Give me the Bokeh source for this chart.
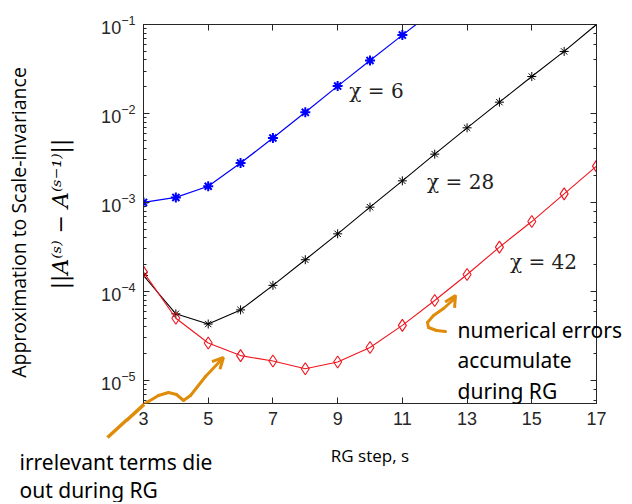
from bokeh.plotting import figure
from bokeh.models import (Range1d, LinearAxis, LogAxis, Label, Arrow, OpenHead, Title,
                          ColumnDataSource, FixedTicker, CustomJSTickFormatter)
from bokeh.embed import file_html
from bokeh.resources import INLINE
import math

# ---------------- data ----------------
steps = [3, 4, 5, 6, 7, 8, 9, 10, 11, 12, 13, 14, 15, 16, 17]
chi6_steps = [3, 4, 5, 6, 7, 8, 9, 10, 11, 12]
chi6 = [1.0e-3, 1.14e-3, 1.52e-3, 2.77e-3, 5.3e-3, 1.03e-2, 2.03e-2, 3.94e-2, 7.6e-2, 1.45e-1]
chi28 = [1.51e-4, 5.6e-5, 4.3e-5, 6.2e-5, 1.17e-4, 2.27e-4, 4.44e-4, 8.85e-4,
         1.75e-3, 3.49e-3, 6.9e-3, 1.34e-2, 2.6e-2, 4.98e-2, 1.0e-1]
chi42 = [1.65e-4, 5.0e-5, 2.63e-5, 1.9e-5, 1.65e-5, 1.35e-5, 1.61e-5, 2.34e-5,
         4.15e-5, 7.9e-5, 1.55e-4, 3.15e-4, 6.1e-4, 1.25e-3, 2.56e-3]
x_ticks = [3, 5, 7, 9, 11, 13, 15, 17]
series_labels = ["\u03c7 = 6", "\u03c7 = 28", "\u03c7 = 42"]

# hand-drawn annotation arrows (canvas pixels)
arrow1_px = [143, 158, 168, 176, 183, 190, 205, 223]
arrow1_py = [404, 395, 392, 394, 400, 395, 376, 357]
arrow2_px = [445, 436, 428, 427, 433, 443, 452, 455]
arrow2_py = [331, 330, 327, 322, 315, 308, 300, 295]

AX = "#262626"
BLUE = "#0000ff"
RED = "#f0141e"
ORANGE = "#e08c0b"

p = figure(width=630, height=502, x_range=Range1d(3, 17), y_range=Range1d(5.5e-6, 0.1),
           y_axis_type="log", output_backend="svg", toolbar_location=None,
           min_border_left=143, min_border_right=34, min_border_top=24, min_border_bottom=99)
p.xgrid.visible = False
p.ygrid.visible = False
p.outline_line_color = AX
p.background_fill_color = "white"
p.border_fill_color = "white"

# axes styling
xa = p.xaxis[0]
xa.ticker = FixedTicker(ticks=x_ticks)
xa.axis_label = "RG step, s"
xa.axis_label_text_font = "Open Sans"
xa.axis_label_text_font_style = "normal"
xa.axis_label_text_font_size = "17px"
xa.axis_label_text_color = "black"
xa.axis_label_standoff = 16
ya = p.yaxis[0]
ya.axis_label = "||A\u207d\u02e2\u207e \u2212 A\u207d\u02e2\u207b\u00b9\u207e||"
ya.axis_label_text_font = "DejaVu Serif"
ya.axis_label_text_font_style = "italic"
ya.axis_label_text_font_size = "22px"
ya.axis_label_text_color = "black"
ya.axis_label_standoff = 25
for ax in (xa, ya):
    ax.axis_line_color = AX
    ax.major_tick_line_color = AX
    ax.minor_tick_line_color = AX
    ax.major_tick_in = 6
    ax.major_tick_out = 0
    ax.minor_tick_in = 3
    ax.minor_tick_out = 0
    ax.major_label_text_font = "Liberation Sans"
    ax.major_label_text_font_size = "18px"
    ax.major_label_text_color = AX
    ax.major_label_standoff = 8
xa.minor_tick_line_color = None

top = LinearAxis(ticker=FixedTicker(ticks=x_ticks), formatter=CustomJSTickFormatter(code="return ''"))
right = LogAxis(formatter=CustomJSTickFormatter(code="return ''"))
for ax in (top, right):
    ax.axis_line_color = AX
    ax.major_tick_line_color = AX
    ax.minor_tick_line_color = AX
    ax.major_tick_in = 6
    ax.major_tick_out = 0
    ax.minor_tick_in = 3
    ax.minor_tick_out = 0
    ax.major_label_standoff = 0
    ax.major_label_text_font_size = "1px"
top.minor_tick_line_color = None
p.add_layout(top, "above")
p.add_layout(right, "right")

# series
p.line(chi6_steps, chi6, line_color=BLUE, line_width=1.2)
p.scatter(chi6_steps, chi6, marker="asterisk", size=10, line_color=BLUE, line_width=2)
p.line(steps, chi28, line_color="black", line_width=1.1)
p.scatter(steps, chi28, marker="asterisk", size=9, line_color="black", line_width=1)
p.line(steps, chi42, line_color=RED, line_width=1.1)
p.scatter(steps, chi42, marker="diamond", size=12, line_color=RED, fill_color=None, line_width=1.1)

# series labels
label_pos = [(10.20, 1.81e-2), (12.80, 1.68e-3), (15.36, 2.12e-4)]
for txt, (lx, ly) in zip(series_labels, label_pos):
    p.add_layout(Label(x=lx, y=ly, text=txt, text_font="DejaVu Serif", text_font_size="20px",
                       text_align="center", text_baseline="middle", text_color="#222222"))

# first (outer) line of the y label
p.add_layout(Label(x=18, y=222, x_units="canvas", y_units="canvas",
                   text="Approximation to Scale-invariance",
                   text_font="Open Sans", text_font_size="19.5px",
                   angle=math.pi / 2, text_align="center", text_baseline="middle", text_color="black"),
             "left")

# text annotations outside / across the frame (side-panel titles are not clipped)
t_irr = Title(text="irrelevant terms die\nout during RG", align="left", vertical_align="top",
              offset=-124, standoff=-44, text_font="Noto Sans", text_font_size="21px",
              text_font_style="normal", text_line_height=1.0, text_color="black")
t_num = Title(text="numerical errors\naccumulate\nduring RG", align="left", vertical_align="top",
              offset=314, standoff=-336, text_font="Noto Sans", text_font_size="21px",
              text_font_style="normal", text_line_height=1.1, text_color="black")
p.add_layout(t_irr, "below")
p.add_layout(t_num, "below")

# tail of the lower-left arrow, which lies outside the frame (two short strokes)
p.add_layout(Label(x=107, y=437, x_units="canvas", y_units="canvas", text=" " * 28,
                   text_font="DejaVu Sans", text_font_size="3px", text_align="left",
                   text_baseline="middle", angle=0.742, background_fill_color=ORANGE,
                   text_color=ORANGE), "right")
p.add_layout(Label(x=126, y=420, x_units="canvas", y_units="canvas", text=" " * 25,
                   text_font="DejaVu Sans", text_font_size="3px", text_align="left",
                   text_baseline="middle", angle=0.742, background_fill_color=ORANGE,
                   text_color=ORANGE), "above")


def add_curved_arrow(xs, ys):
    src = ColumnDataSource(dict(x0=xs[:-2], y0=ys[:-2], x1=xs[1:-1], y1=ys[1:-1]))
    p.add_layout(Arrow(source=src, x_start="x0", y_start="y0", x_end="x1", y_end="y1",
                       start_units="canvas", end_units="canvas",
                       end=None, line_color=ORANGE, line_width=3, line_cap="round"))
    p.add_layout(Arrow(x_start=xs[-2], y_start=ys[-2], x_end=xs[-1], y_end=ys[-1],
                       start_units="canvas", end_units="canvas",
                       end=OpenHead(size=11, line_color=ORANGE, line_width=3),
                       line_color=ORANGE, line_width=3, line_cap="round"))


add_curved_arrow(arrow1_px, arrow1_py)
add_curved_arrow(arrow2_px, arrow2_py)

open("out.html", "w").write(file_html(p, INLINE))
